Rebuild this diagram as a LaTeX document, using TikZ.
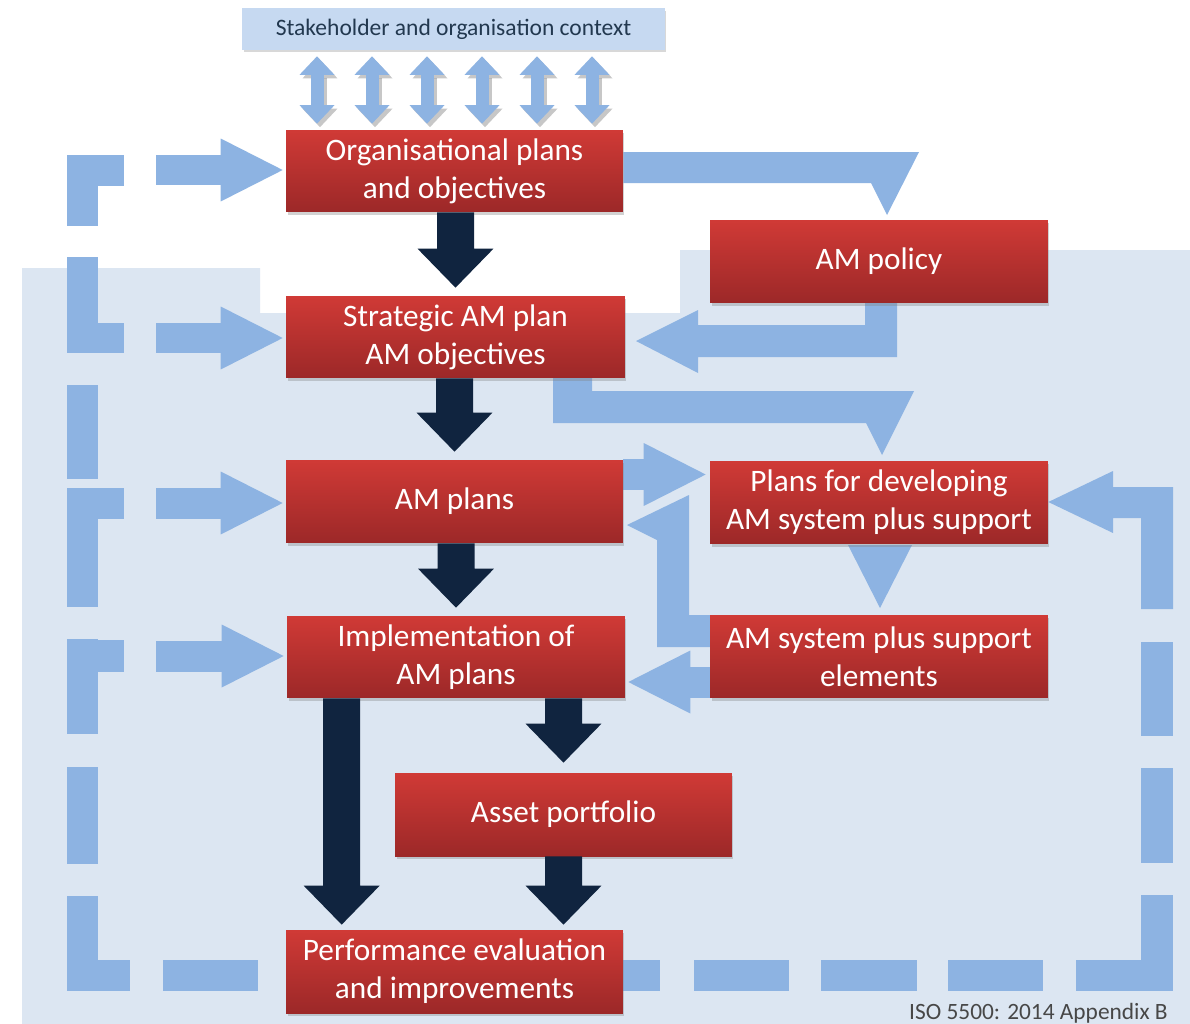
\documentclass[tikz,border=0pt]{standalone}
\usepackage{fontspec}
\setmainfont{Carlito}
\usetikzlibrary{arrows.meta,shadows,calc}
\definecolor{lb}{HTML}{8DB3E2}
\definecolor{bgb}{HTML}{DCE6F2}
\definecolor{stk}{HTML}{C6D9F1}
\definecolor{navy}{HTML}{10243F}
\definecolor{redt}{HTML}{D03A36}
\definecolor{redb}{HTML}{9C2828}
\definecolor{stktext}{HTML}{22384F}
\pgfdeclarelayer{back}\pgfdeclarelayer{mid}\pgfsetlayers{back,mid,main}
% fat downward arrow from (#1) to tip (#2)
\newcommand{\fatdown}[2]{%
  \fill[navy] let \p1=(#1), \p2=(#2) in
    (\x2-0.37cm,\y1) -- (\x2-0.37cm,\y2+0.78cm) -- (\x2-0.76cm,\y2+0.78cm) -- (\x2,\y2)
    -- (\x2+0.76cm,\y2+0.78cm) -- (\x2+0.37cm,\y2+0.78cm) -- (\x2+0.37cm,\y1) -- cycle;}
\begin{document}
\begin{tikzpicture}[x=0.02cm,y=-0.02cm,
  redbox/.style={rectangle, minimum width=6.74cm, minimum height=1.64cm, inner sep=0pt,
    top color=redt, bottom color=redb, text=white, align=center,
    font=\fontsize{17.8}{21.6}\selectfont,
    drop shadow={shadow xshift=0.03cm,shadow yshift=-0.06cm,opacity=0.35}},
  stakebox/.style={rectangle, minimum width=8.46cm, minimum height=0.84cm, inner sep=0pt,
    fill=stk, text=stktext, font=\fontsize{13.4}{15}\selectfont,
    drop shadow={shadow xshift=0.03cm,shadow yshift=-0.05cm,opacity=0.3}},
  lbarr/.style={draw=lb, line width=0.62cm, -{Triangle[width=1.26cm,length=1.24cm,line width=0pt]}},
  dbl/.style={draw=lb, line width=0.26cm, shorten <=0.12cm, shorten >=0.12cm,
    {Triangle[width=0.70cm,length=0.37cm,line width=0pt]}-{Triangle[width=0.70cm,length=0.37cm,line width=0pt]}},
  dashbox/.style={fill=lb},
  lbshape/.style={fill=lb}
]
\useasboundingbox (0,0) rectangle (1190,1024);

% ---------- nodes ----------
\node[stakebox] (stake) at (453.5,29) {Stakeholder and organisation context};
\node[redbox] (org) at (454.5,171) {Organisational plans\\and objectives};
\node[redbox, minimum width=6.78cm] (strat) at (455.5,337) {Strategic AM plan\\AM objectives};
\node[redbox, minimum height=1.66cm] (amplans) at (454.5,501.5) {AM plans};
\node[redbox, minimum width=6.76cm] (impl) at (456,657) {Implementation of\\AM plans};
\node[redbox, minimum height=1.66cm] (asset) at (563.5,814.5) {Asset portfolio};
\node[redbox, minimum height=1.66cm] (perf) at (454.5,971.5) {Performance evaluation\\and improvements};
\node[redbox, minimum width=6.76cm, minimum height=1.66cm] (policy) at (879,261.5) {AM policy};
\node[redbox, minimum width=6.76cm, minimum height=1.66cm] (plansdev) at (879,502.5) {Plans for developing\\AM system plus support};
\node[redbox, minimum width=6.76cm, minimum height=1.66cm] (amsys) at (879,656.5) {AM system plus support\\elements};
\node[anchor=base east, inner sep=0pt, text=black!72, font=\fontsize{13.3}{15}\selectfont] (iso) at (1168,1019) {ISO 5500: 2014 Appendix B};

% ---------- background ----------
\begin{pgfonlayer}{back}
\fill[white] (0,0) rectangle (1190,1024);
\fill[bgb] (22,268) -- (260,268) -- (260,313) -- (680,313) -- (680,250) -- (1190,250) -- (1190,1024) -- (22,1024) -- cycle;
\end{pgfonlayer}

% ---------- dashed feedback loop and light arrows ----------
\begin{pgfonlayer}{mid}
% left column
\fill[dashbox] (67,155) rectangle (98,226);  \fill[dashbox] (67,155) rectangle (124,186);
\fill[dashbox] (67,257) rectangle (98,353);  \fill[dashbox] (67,323) rectangle (124,353);
\fill[dashbox] (67,385) rectangle (98,479);
\fill[dashbox] (67,488) rectangle (98,607);  \fill[dashbox] (67,488) rectangle (124,519);
\fill[dashbox] (67,639) rectangle (98,734);  \fill[dashbox] (67,640) rectangle (124,672);
\fill[dashbox] (67,767) rectangle (98,864);
\fill[dashbox] (67,896) rectangle (98,991);  \fill[dashbox] (67,960) rectangle (130,991);
% bottom row
\fill[dashbox] (163,960) rectangle (258,991);
\fill[dashbox] (560,960) rectangle (660,991);
\fill[dashbox] (694,960) rectangle (789,991);
\fill[dashbox] (821,960) rectangle (917,991);
\fill[dashbox] (948,960) rectangle (1043,991);
\fill[dashbox] (1076,960) rectangle (1173,991);
% right column
\fill[dashbox] (1141,895) rectangle (1173,991);
\fill[dashbox] (1141,768) rectangle (1173,863);
\fill[dashbox] (1141,642) rectangle (1173,736);
% right loop into plans for developing
\fill[lbshape] (1173,609) -- (1173,487) -- (1113,487) -- (1113,471) -- (plansdev.east |- 0,502) -- (1113,533) -- (1113,518) -- (1141,518) -- (1141,609) -- cycle;

% left inputs
\coordinate (l1) at (156,170);
\coordinate (l2) at (156,338);
\coordinate (l3) at (156,503);
\coordinate (l4) at (156,656);
\draw[lbarr] (l1) -- ([xshift=-0.06cm]l1 -| org.west);
\draw[lbarr] (l2) -- ([xshift=-0.06cm]l2 -| strat.west);
\draw[lbarr] (l3) -- ([xshift=-0.06cm]l3 -| amplans.west);
\draw[lbarr] (l4) -- ([xshift=-0.06cm]l4 -| impl.west);

% organisational plans -> AM policy
\fill[lbshape] (org.east |- 0,152) -- (919,152) -- (887,215) -- (871,183) -- (org.east |- 0,183) -- cycle;
% AM policy -> strategic AM plan
\fill[lbshape] (865,303) -- (897,303) -- (897,357) -- (698,357) -- (698,373) -- (636,341) -- (698,310) -- (698,325) -- (865,325) -- cycle;
% strategic AM plan -> plans for developing
\fill[lbshape] (553,378) -- (592,378) -- (592,391) -- (914,391) -- (882,455) -- (866,423) -- (553,423) -- cycle;
% AM plans -> plans for developing
\coordinate (a1) at ($(amplans.east)+(0,-27)$);
\draw[lbarr] (a1) -- ([xshift=-0.08cm]a1 -| plansdev.west);
% plans for developing -> AM system
\fill[lbshape] (848,545) -- (912,545) -- (880,608) -- cycle;
% AM system -> AM plans
\fill[lbshape] (710,615) -- (689,615) -- (689,495) -- (627,525) -- (657,540) -- (657,647) -- (710,647) -- cycle;
% AM system -> implementation
\coordinate (a2) at ($(amsys.west)+(0,25.5)$);
\draw[lbarr] (a2) -- ([xshift=0.06cm]a2 -| impl.east);
\end{pgfonlayer}

% ---------- dark flow arrows ----------
\coordinate (t1) at ([yshift=0.16cm]strat.north);
\coordinate (t2) at ([yshift=0.16cm]amplans.north);
\coordinate (t3) at ([yshift=0.16cm]impl.north);
\coordinate (s4) at ($(impl.south west)+(55,0)$);
\coordinate (t4) at ($(perf.north west)+(56,-5)$);
\coordinate (s5) at (impl.south -| asset.north);
\coordinate (t5) at ([yshift=0.2cm]asset.north);
\coordinate (t6) at ([yshift=0.1cm]asset.south |- perf.north);
\fatdown{org.south}{t1}
\fatdown{strat.south}{t2}
\fatdown{amplans.south}{t3}
\fatdown{s4}{t4}
\fatdown{s5}{t5}
\fatdown{asset.south}{t6}

% ---------- stakeholder exchange arrows ----------
\foreach \x in {317,372,427,482,537,592} {
  \draw[dbl, draw=black, opacity=0.22, transform canvas={xshift=0.06cm,yshift=-0.07cm}] (stake.south -| \x,0) -- (org.north -| \x,0);
  \draw[dbl] (stake.south -| \x,0) -- (org.north -| \x,0);
}
\end{tikzpicture}
\end{document}
